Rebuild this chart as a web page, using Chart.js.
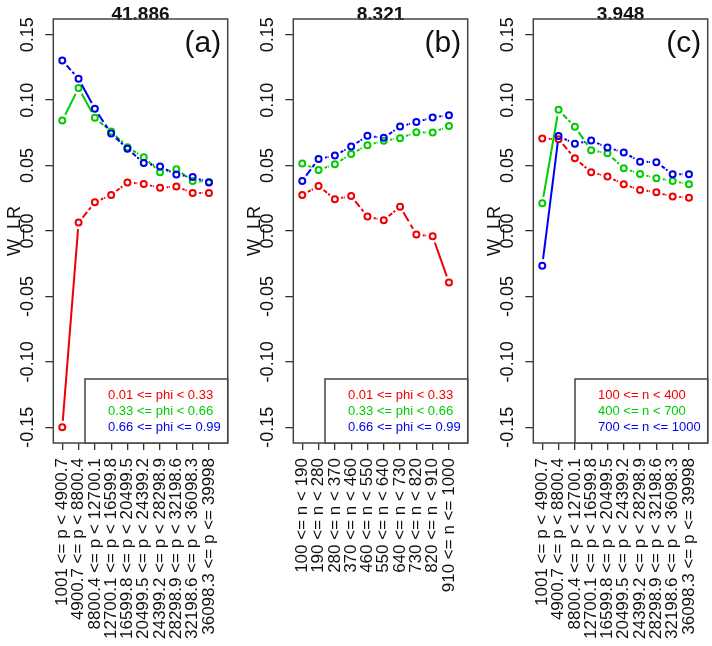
<!DOCTYPE html>
<html>
<head>
<meta charset="utf-8">
<script src="https://cdn.jsdelivr.net/npm/chart.js@4.4.0/dist/chart.umd.min.js"></script>
<style>
html,body{margin:0;padding:0;background:#fff;overflow:hidden;width:712px;height:646px;}
canvas{position:absolute;top:0;}
</style>
</head>
<body>
<canvas id="panelA" width="240" height="646" style="left:0"></canvas>
<canvas id="panelB" width="240" height="646" style="left:240px"></canvas>
<canvas id="panelC" width="240" height="646" style="left:480px"></canvas>
<script>
// ---- data ----
const pLabels = ["1001 <= p < 4900.7","4900.7 <= p < 8800.4","8800.4 <= p < 12700.1","12700.1 <= p < 16599.8",
  "16599.8 <= p < 20499.5","20499.5 <= p < 24399.2","24399.2 <= p < 28298.9","28298.9 <= p < 32198.6",
  "32198.6 <= p < 36098.3","36098.3 <= p <= 39998"];
const nLabels = ["100 <= n < 190","190 <= n < 280","280 <= n < 370","370 <= n < 460","460 <= n < 550",
  "550 <= n < 640","640 <= n < 730","730 <= n < 820","820 <= n < 910","910 <= n <= 1000"];
const yTickValues = [-0.15,-0.10,-0.05,0.00,0.05,0.10,0.15];

const phiLegend = ["0.01 <= phi < 0.33","0.33 <= phi < 0.66","0.66 <= phi <= 0.99"];
const nLegend = ["100 <= n < 400","400 <= n < 700","700 <= n <= 1000"];

const aRed   = [-0.150, 0.0064, 0.022, 0.0276, 0.037, 0.036, 0.033, 0.034, 0.029, 0.029];
const aGreen = [0.0844, 0.1092, 0.0865, 0.076, 0.064, 0.0564, 0.0449, 0.0472, 0.0383, 0.0375];
const aBlue  = [0.1303, 0.1163, 0.0934, 0.0745, 0.0628, 0.052, 0.0492, 0.0431, 0.0413, 0.037];

const bRed   = [0.0276, 0.0344, 0.0243, 0.0268, 0.011, 0.0082, 0.0186, -0.0026, -0.0041, -0.0393];
const bGreen = [0.0515, 0.0467, 0.051, 0.0589, 0.0656, 0.069, 0.0709, 0.0755, 0.0752, 0.0803];
const bBlue  = [0.0383, 0.0551, 0.0576, 0.0645, 0.0727, 0.0712, 0.0798, 0.0832, 0.0867, 0.0885];

const cRed   = [0.0706, 0.0702, 0.0556, 0.0449, 0.0416, 0.0357, 0.0314, 0.0296, 0.0263, 0.0255];
const cGreen = [0.0212, 0.0926, 0.0796, 0.0617, 0.0594, 0.048, 0.0436, 0.0403, 0.0383, 0.0357];
const cBlue  = [-0.0265, 0.0725, 0.0666, 0.0691, 0.0638, 0.06, 0.053, 0.0526, 0.0434, 0.0434];

const panelTitles = ["41.886","8.321","3.948"];
const panelLetters = ["(a)","(b)","(c)"];

const FONT = "'Liberation Sans', Arial, sans-serif";
const COLORS = ["#f00000","#00cd00","#0000f0"];
const GAP = 6.5; // gap round each point, like type="b"

// each segment drawn on its own, with gaps round the points
function segDash(c){
  const L = Math.hypot(c.p1.x - c.p0.x, c.p1.y - c.p0.y);
  const v = L - 2*GAP;
  if (v <= 0) return [0, 10000];
  if (v > 20) return [0, GAP, v, 10000];
  return [0, GAP, v*0.55, v*0.2, v*0.25, 10000];
}

const deco = {
  id: "deco",
  afterDraw(chart, args, o){
    const ctx = chart.ctx, a = chart.chartArea, ys = chart.scales.y;
    ctx.save();
    ctx.fillStyle = "#111";
    // title
    ctx.font = "bold 19px " + FONT; ctx.textAlign = "center"; ctx.textBaseline = "alphabetic";
    ctx.fillText(o.title, (a.left + a.right)/2, 20);
    // box
    ctx.strokeStyle = "#444"; ctx.lineWidth = 1.5;
    ctx.strokeRect(a.left, a.top, a.right - a.left, a.bottom - a.top);
    // y tick labels, parallel to the axis
    ctx.font = "18px " + FONT; ctx.textBaseline = "middle";
    for (const v of yTickValues){
      const py = ys.getPixelForValue(v);
      ctx.save(); ctx.translate(28.5, py); ctx.rotate(-Math.PI/2);
      ctx.fillText(v.toFixed(2), 0, 0);
      ctx.restore();
    }
    // panel letter
    ctx.font = "30px " + FONT; ctx.textAlign = "right"; ctx.textBaseline = "alphabetic";
    ctx.fillText(o.letter, a.right - 6.5, 52);
    // legend
    const lx = a.left + o.legendLeft, ly = a.bottom - 64;
    ctx.fillStyle = "#fff"; ctx.fillRect(lx, ly, a.right - lx, a.bottom - ly);
    ctx.strokeRect(lx, ly, a.right - lx, a.bottom - ly);
    ctx.font = "13px " + FONT; ctx.textAlign = "left"; ctx.textBaseline = "middle";
    chart.data.datasets.forEach((d, i) => {
      ctx.fillStyle = d.borderColor;
      ctx.fillText(d.label, lx + 23, ly + 16 + 16.2*i);
    });
    ctx.restore();
  }
};

function makeChart(id, xLabels, series, legendLabels, idx, legendLeft){
  return new Chart(document.getElementById(id), {
    type: "line",
    data: {
      datasets: series.map((vals, i) => ({
        label: legendLabels[i],
        data: vals.map((v, j) => ({x: j + 1, y: v})),
        borderColor: COLORS[i],
        borderWidth: 2,
        pointRadius: 3,
        pointBorderWidth: 2,
        pointBorderColor: COLORS[i],
        pointBackgroundColor: "rgba(0,0,0,0)",
        order: 2 - i,
        segment: { borderDash: segDash }
      }))
    },
    options: {
      responsive: false, animation: false, devicePixelRatio: 1,
      layout: { padding: { left: 0, right: 12.3, top: 19, bottom: 0 } },
      plugins: {
        legend: { display: false }, tooltip: { enabled: false },
        deco: { title: panelTitles[idx], letter: panelLetters[idx], legendLeft }
      },
      scales: {
        x: {
          type: "linear", min: 0.45, max: 11.15,
          afterBuildTicks: s => { s.ticks = xLabels.map((_, j) => ({ value: j + 1 })); },
          afterFit: s => { s.height = 203; },
          grid: { drawOnChartArea: false, drawTicks: true, tickLength: 7, color: "#333", lineWidth: 1.3 },
          border: { display: false },
          ticks: { autoSkip: false, minRotation: 90, maxRotation: 90, padding: 8, color: "#111",
            font: { family: FONT, size: 17 }, callback: v => xLabels[v - 1] }
        },
        y: {
          min: -0.162, max: 0.162,
          afterBuildTicks: s => { s.ticks = yTickValues.map(v => ({ value: v })); },
          afterFit: s => { s.width = 53.3; },
          grid: { drawOnChartArea: false, drawTicks: true, tickLength: 8, color: "#333", lineWidth: 1.3 },
          border: { display: false },
          ticks: { display: false },
          title: { display: true, text: "W_LR", color: "#111", font: { family: FONT, size: 18 }, padding: { top: 4, bottom: 0 } }
        }
      }
    },
    plugins: [deco]
  });
}

makeChart("panelA", pLabels, [aRed, aGreen, aBlue], phiLegend, 0, 31.7);
makeChart("panelB", nLabels, [bRed, bGreen, bBlue], phiLegend, 1, 31.7);
makeChart("panelC", pLabels, [cRed, cGreen, cBlue], nLegend, 2, 41.7);
</script>
</body>
</html>
